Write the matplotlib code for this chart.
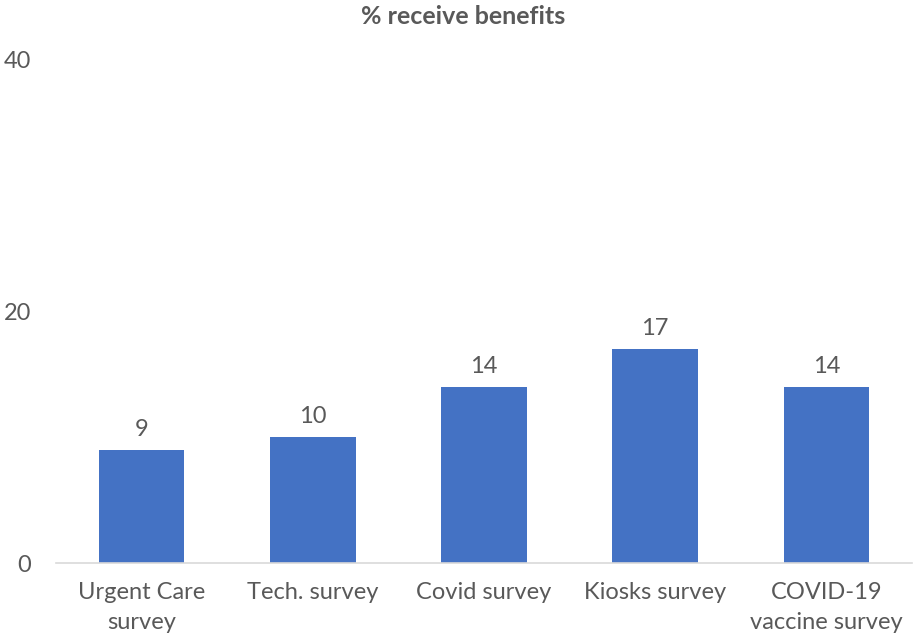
import matplotlib.pyplot as plt

# data
categories = ['Urgent Care\nsurvey', 'Tech. survey', 'Covid survey', 'Kiosks survey', 'COVID-19\nvaccine survey']
values = [9, 10, 14, 17, 14]
yticks = [0, 20, 40]

plt.rcParams['font.family'] = ['Lato', 'DejaVu Sans']
grey = '#595959'

fig = plt.figure(figsize=(9.13, 6.41), dpi=100)
ax = fig.add_axes([56 / 913, 78 / 641, 856 / 913, 503 / 641])

x = range(len(categories))
bars = ax.bar(x, values, width=0.5, color='#4472C4')

# value labels over bars
for b, v in zip(bars, values):
    ax.text(b.get_x() + b.get_width() / 2, v + 0.8, str(v), ha='center', va='bottom',
            fontsize=17, color=grey)

ax.set_xlim(-0.5, len(categories) - 0.5)
ax.set_ylim(0, 40)
ax.set_yticks(yticks)
ax.set_xticks(list(x))
ax.set_xticklabels(categories, fontsize=17, color=grey, linespacing=1.5)
ax.tick_params(axis='y', labelsize=17, labelcolor=grey, length=0, pad=18)
ax.tick_params(axis='x', length=0, pad=14)

for s in ['top', 'right', 'left']:
    ax.spines[s].set_visible(False)
ax.spines['bottom'].set_color('#D9D9D9')
ax.spines['bottom'].set_linewidth(1.2)

fig.text(463 / 913, 1 - 16 / 641, '% receive benefits', ha='center', va='center',
         fontsize=18, fontweight='bold', color=grey)

fig.savefig('out.png', dpi=100)
